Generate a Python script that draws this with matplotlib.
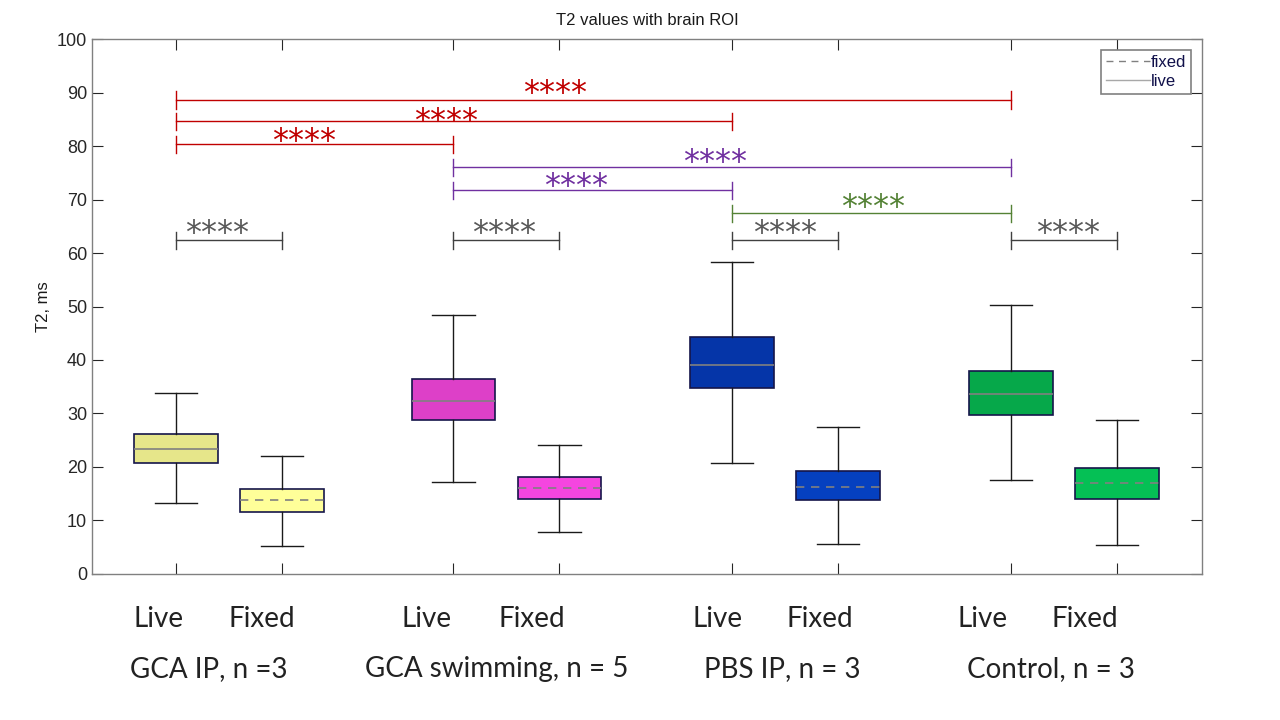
import matplotlib.pyplot as plt
import matplotlib.transforms as mtransforms
from matplotlib.lines import Line2D

# box stats (ms)
groups = ['GCA IP, n =3', 'GCA swimming, n = 5', 'PBS IP, n = 3', 'Control, n = 3']
conditions = ['Live', 'Fixed']
whislo = [13.3, 5.3, 17.2, 7.9, 20.8, 5.6, 17.5, 5.5]
q1 = [20.8, 11.6, 28.7, 14.0, 34.8, 13.9, 29.8, 14.1]
med = [23.3, 13.9, 32.3, 16.0, 39.0, 16.3, 33.6, 17.0]
q3 = [26.2, 15.9, 36.5, 18.1, 44.3, 19.3, 38.0, 19.9]
whishi = [33.8, 22.1, 48.4, 24.2, 58.4, 27.5, 50.3, 28.7]
box_colors = ['#E6E68A', '#FFFF99', '#DD40C8', '#F545E0',
              '#0535A8', '#0540C0', '#06A84A', '#05C055']

# significance brackets: (from box, to box, height, colour)
sig_from = [0, 0, 0, 2, 2, 4, 0, 2, 4, 6]
sig_to = [6, 4, 2, 6, 4, 6, 1, 3, 5, 7]
sig_y = [88.6, 84.6, 80.3, 76.0, 71.7, 67.4, 62.4, 62.4, 62.4, 62.4]
sig_label = ['****'] * 10
sig_color = ['#C00000', '#C00000', '#C00000', '#7030A0', '#7030A0',
             '#548235', '#404040', '#404040', '#404040', '#404040']
star_color = ['#C00000', '#C00000', '#C00000', '#7030A0', '#7030A0',
              '#548235', '#595959', '#595959', '#595959', '#595959']

# layout
positions = [1, 2, 3.62, 4.62, 6.25, 7.25, 8.88, 9.88]
star_x = [4.58, 3.55, 2.21, 6.09, 4.78, 7.58, 1.39, 4.10, 6.75, 9.42]
star_dy = [-0.4, -1.6, -1.1, -0.7, -0.9, -0.5, -0.4, -0.4, -0.4, -0.4]
cond_x = [0.84, 1.81, 3.37, 4.36, 6.11, 7.08, 8.61, 9.58]
group_x = [1.31, 4.03, 6.72, 9.26]

plt.rcParams['font.family'] = ['Liberation Sans', 'DejaVu Sans']

fig = plt.figure(figsize=(12.8, 7.2), dpi=100)
ax = fig.add_axes([0.0719, 0.2028, 0.867, 0.743])

stats = []
for i in range(len(positions)):
    stats.append({'whislo': whislo[i], 'q1': q1[i], 'med': med[i],
                  'q3': q3[i], 'whishi': whishi[i], 'fliers': []})

for i, s in enumerate(stats):
    live = i % 2 == 0
    ax.bxp([s], positions=[positions[i]], widths=0.79, patch_artist=True,
           showfliers=False, manage_ticks=False,
           boxprops=dict(facecolor=box_colors[i], edgecolor='#15154A', linewidth=1.2),
           whiskerprops=dict(color='#1a1a1a', linewidth=1),
           capprops=dict(color='#1a1a1a', linewidth=1),
           capwidths=0.4,
           medianprops=dict(color='#808080', linewidth=1.2,
                            linestyle='-' if live else (0, (5, 4))))

tick_h = 1.6
for i in range(len(sig_from)):
    x0 = positions[sig_from[i]]
    x1 = positions[sig_to[i]]
    y = sig_y[i]
    ax.plot([x0, x1], [y, y], color=sig_color[i], lw=1)
    ax.plot([x0, x0], [y - tick_h, y + tick_h], color=sig_color[i], lw=1)
    ax.plot([x1, x1], [y - tick_h, y + tick_h], color=sig_color[i], lw=1)
    ax.text(star_x[i], y + star_dy[i], sig_label[i], color=star_color[i],
            ha='center', va='baseline', fontsize=23, family='DejaVu Sans')

ax.set_xlim(0.21, 10.68)
ax.set_ylim(0, 100)
ax.set_yticks(range(0, 101, 10))
ax.set_xticks(positions)
ax.set_xticklabels([])
ax.tick_params(direction='in', length=8, top=True, right=True,
               labelsize=13, color='#262626', labelcolor='#262626')
for sp in ax.spines.values():
    sp.set_color('#808080')
    sp.set_linewidth(1)

ax.set_title('T2 values with brain ROI', fontsize=12, color='#1a1a1a', pad=10)
ax.set_ylabel('T2, ms', fontsize=12, color='#1a1a1a', labelpad=4)

handles = [Line2D([], [], color='#808080', lw=1, linestyle=(0, (5, 4))),
           Line2D([], [], color='#a8a8a8', lw=1)]
leg = ax.legend(handles, ['fixed', 'live'], loc='upper right', fontsize=12,
                fancybox=False, edgecolor='#808080', framealpha=1,
                handlelength=2.6, handletextpad=0.05, borderpad=0.3,
                labelspacing=0.25, borderaxespad=0.65)
leg.get_frame().set_linewidth(1.2)
for t in leg.get_texts():
    t.set_color('#10104a')

trans = mtransforms.blended_transform_factory(ax.transData, fig.transFigure)
for i in range(len(cond_x)):
    ax.text(cond_x[i], 0.129, conditions[i % 2], transform=trans, ha='center',
            va='baseline', fontsize=20, family='Lato', color='#222222')
for i in range(len(groups)):
    ax.text(group_x[i], 0.060, groups[i], transform=trans, ha='center',
            va='baseline', fontsize=20, family='Lato', color='#222222')

fig.savefig('out.png', dpi=100)
